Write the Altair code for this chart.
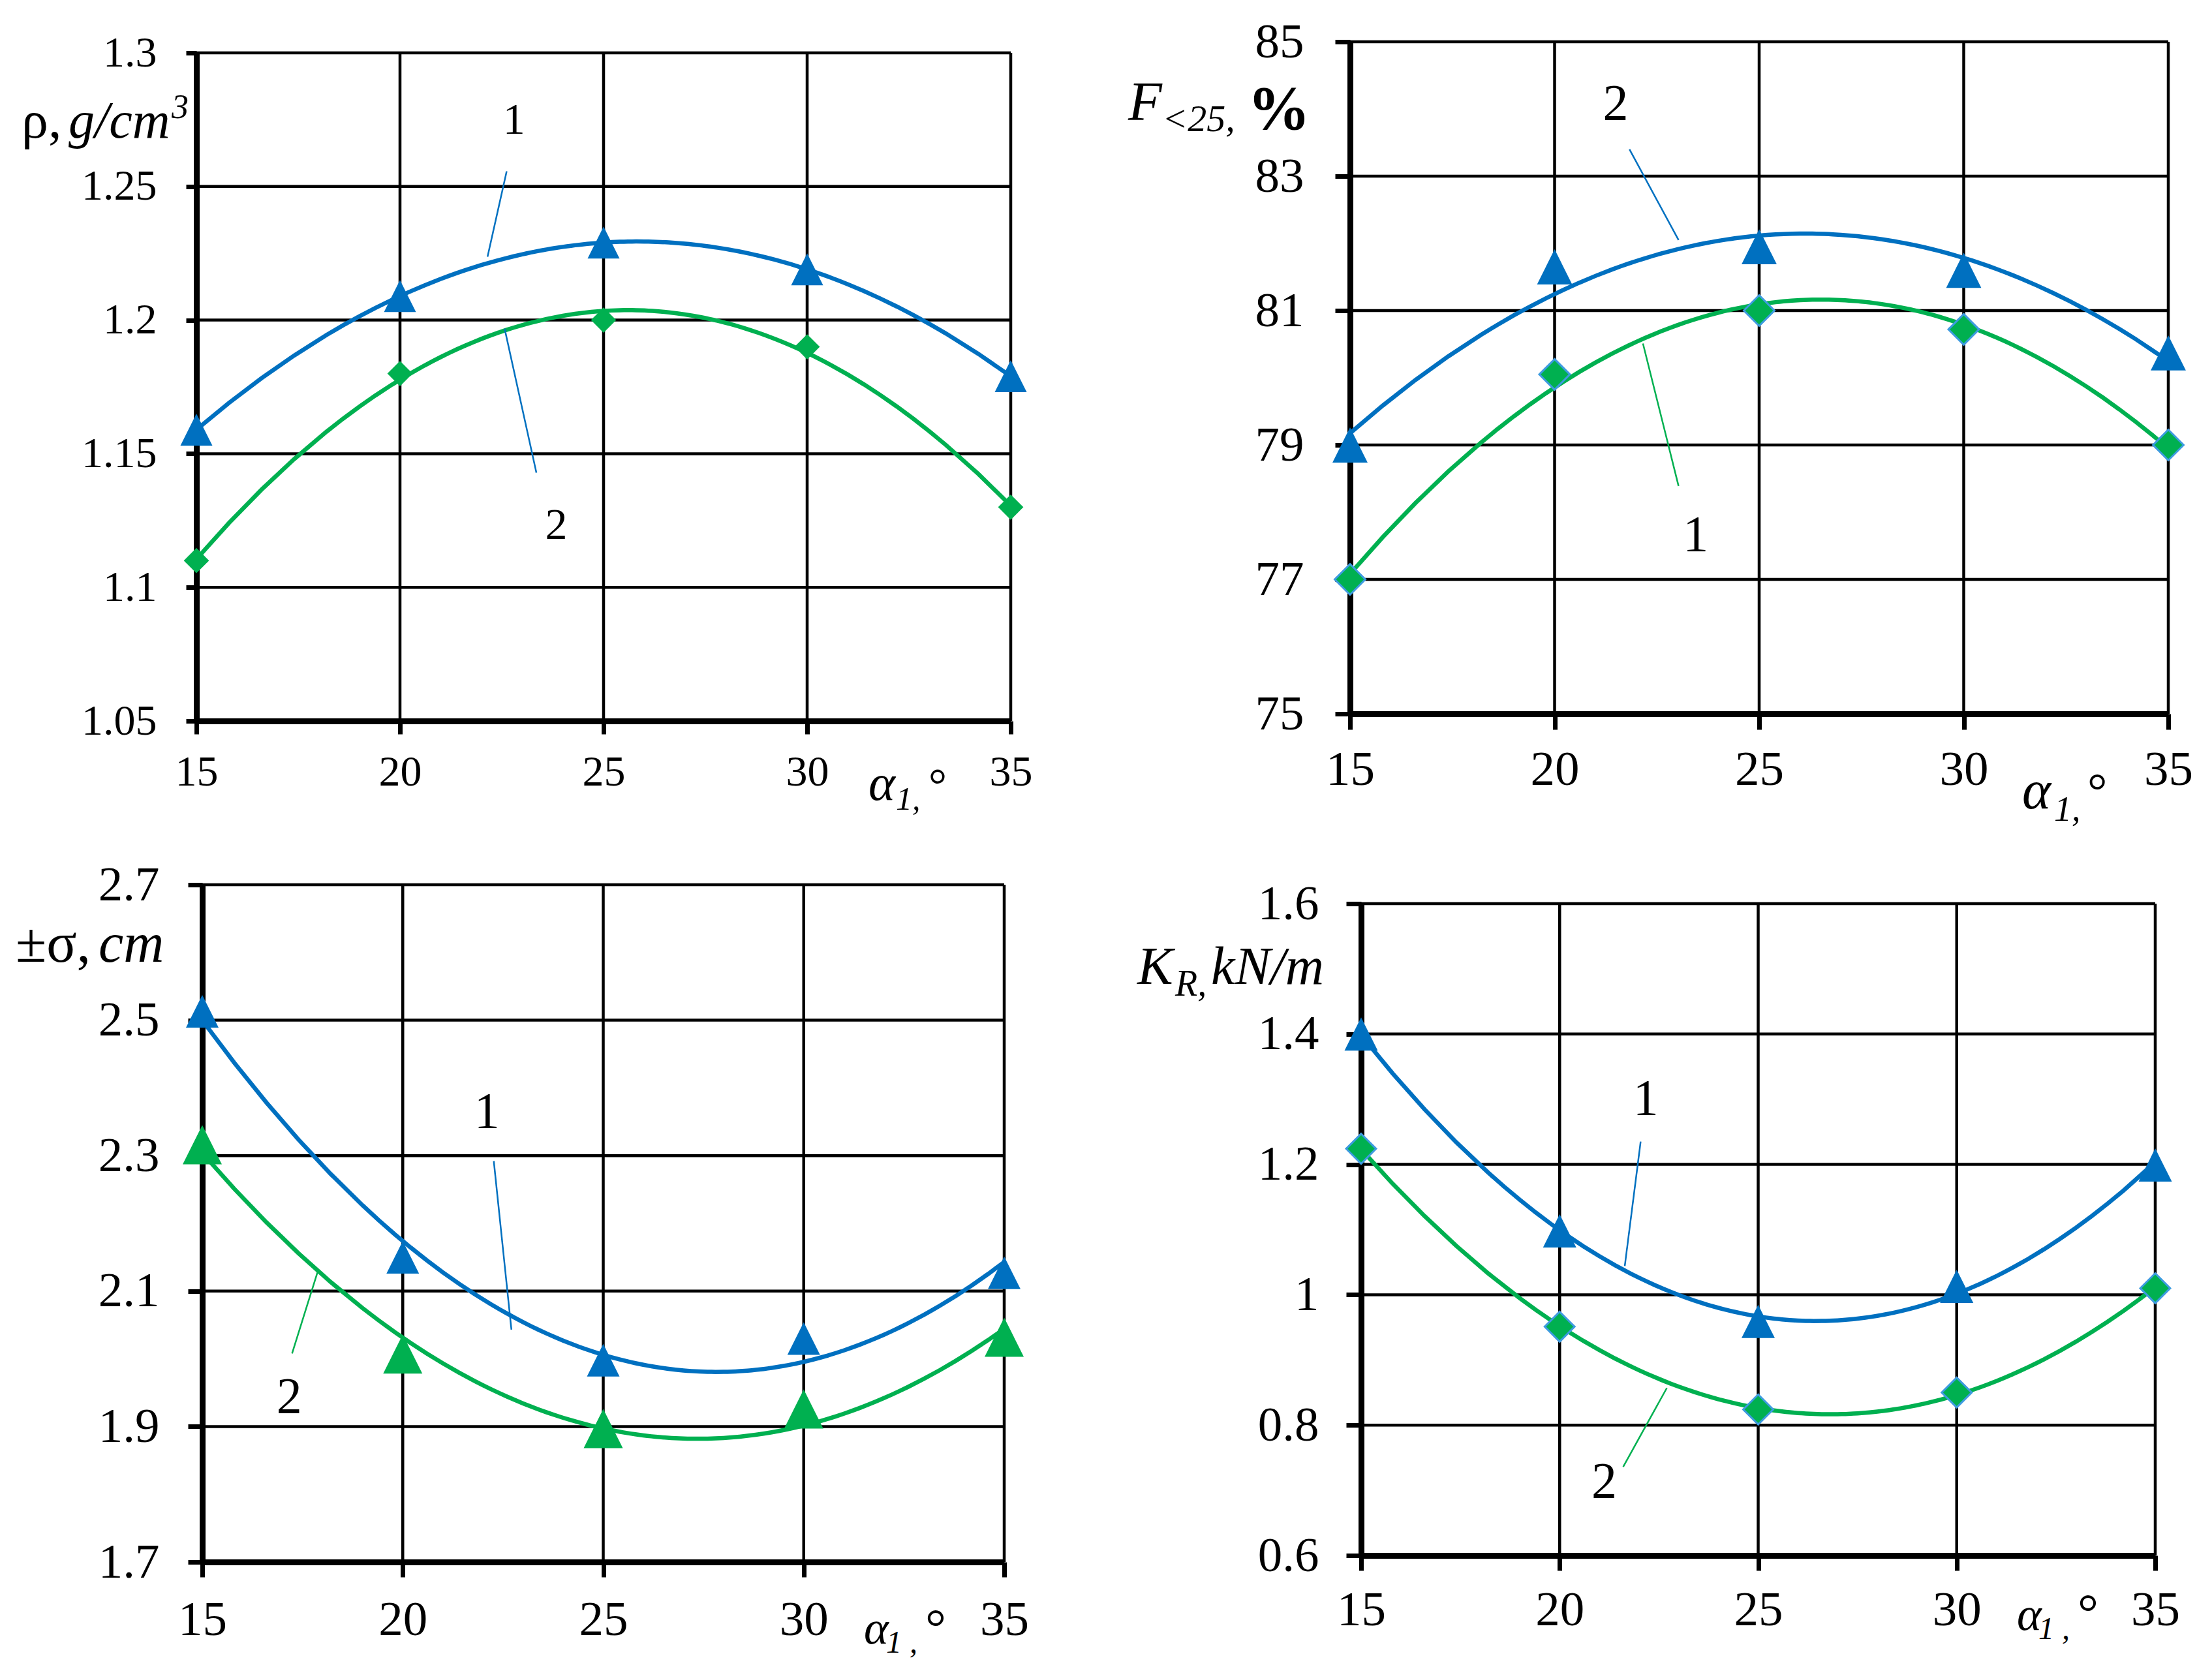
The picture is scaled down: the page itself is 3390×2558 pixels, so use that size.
import altair as alt
import pandas as pd

# ---------------- data ----------------
angles = [15, 20, 25, 30, 35]

# panel (a) density, g/cm3
rho_1 = [1.159, 1.209, 1.229, 1.219, 1.179]   # blue triangles, curve "1"
rho_2 = [1.110, 1.180, 1.200, 1.190, 1.130]   # green diamonds, curve "2"
rho_ticks = [1.05, 1.1, 1.15, 1.2, 1.25, 1.3]

# panel (b) F<25, %
F_1 = [77.0, 80.05, 81.0, 80.72, 79.0]        # green diamonds, curve "1"
F_2 = [79.0, 81.65, 81.95, 81.6, 80.37]       # blue triangles, curve "2"
F_ticks = [75, 77, 79, 81, 83, 85]

# panel (c) +-sigma, cm
sig_1 = [2.513, 2.150, 1.998, 2.030, 2.127]   # blue triangles, curve "1"
sig_2 = [2.316, 2.007, 1.897, 1.926, 2.032]   # green triangles, curve "2"
sig_ticks = [1.7, 1.9, 2.1, 2.3, 2.5, 2.7]

# panel (d) K_R, kN/m
K_1 = [1.400, 1.098, 0.959, 1.013, 1.199]     # blue triangles, curve "1"
K_2 = [1.224, 0.951, 0.824, 0.850, 1.010]     # green diamonds, curve "2"
K_ticks = [0.6, 0.8, 1.0, 1.2, 1.4, 1.6]

# curve labels with leader lines (data units): label, label x, label y, x1, y1, x2, y2, series
rho_notes = [("1", 22.8, 1.2746, 22.62, 1.2557, 22.15, 1.2237, "b"),
             ("2", 23.84, 1.1229, 22.57, 1.1968, 23.35, 1.1429, "b")]
F_notes = [("2", 21.49, 84.07, 21.83, 83.40, 23.03, 82.05, "b"),
           ("1", 23.45, 77.65, 22.16, 80.51, 23.03, 78.39, "g")]
sig_notes = [("1", 22.10, 2.364, 22.27, 2.292, 22.71, 2.043, "b"),
             ("2", 17.17, 1.943, 17.24, 2.008, 17.88, 2.129, "g")]
K_notes = [("1", 22.17, 1.300, 22.04, 1.235, 21.64, 1.044, "b"),
           ("2", 21.12, 0.712, 21.60, 0.736, 22.70, 0.857, "g")]

# ---------------- styling ----------------
BLUE = "#0070C0"
GREEN = "#00B050"
OUTLINE = "#3D9BE0"
SERIF = "Liberation Serif"
TRI = "M0,-1L1,1L-1,1Z"
DIA = "M0,-1L1,0L0,1L-1,0Z"
COL = {"b": BLUE, "g": GREEN}

# axis-title pieces: text, x px, y px (relative to panel group), size, style, weight
rho_title = [("ρ,", -268, 147, 82, "normal", "normal"), ("g/cm", -196, 147, 80, "italic", "normal"),
             ("3", -38, 117, 52, "italic", "normal"),
             ("α", 1030, 1162, 78, "italic", "normal"), ("1,", 1072, 1177, 50, "italic", "normal"),
             ("°", 1122, 1162, 70, "normal", "normal")]
F_title = [("F", -340, 120, 85, "italic", "normal"), ("<25,", -288, 137, 58, "italic", "normal"),
           ("%", -157, 134, 96, "normal", "bold"),
           ("α", 1030, 1175, 84, "italic", "normal"), ("1,", 1079, 1194, 54, "italic", "normal"),
           ("°", 1130, 1174, 76, "normal", "normal")]
sig_title = [("±σ,", -277, 118, 86, "normal", "normal"), ("cm", -150, 118, 86, "italic", "normal"),
             ("α", 1023, 1163, 72, "italic", "normal"), ("1 ,", 1057, 1177, 48, "italic", "normal"),
             ("°", 1117, 1165, 80, "normal", "normal")]
K_title = [("K", -326, 152, 82, "italic", "normal"), ("R,", -268, 170, 56, "italic", "normal"),
           ("kN/m", -213, 152, 82, "italic", "normal"),
           ("α", 1022, 1142, 72, "italic", "normal"), ("1 ,", 1055, 1156, 48, "italic", "normal"),
           ("°", 1115, 1142, 80, "normal", "normal")]


def panel(s1, s2, ticks, colors, markers, notes, title, width, height,
          xrange=None, yrange=None, fs=75, note_fs=78, xtick=23, ytick=23,
          xpad=84, ypad=45, yoffset=0, anchor=False):
    df = pd.DataFrame({"angle": angles * 2, "value": s1 + s2,
                       "series": ["1"] * 5 + ["2"] * 5,
                       "col": [COL[colors[0]]] * 5 + [COL[colors[1]]] * 5})
    xs = alt.Scale(domain=[15, 35], nice=False, zero=False)
    if xrange is not None:
        xs = alt.Scale(domain=[15, 35], nice=False, zero=False, range=xrange)
    ys = alt.Scale(domain=[ticks[0], ticks[-1]], nice=False, zero=False)
    if yrange is not None:
        ys = alt.Scale(domain=[ticks[0], ticks[-1]], nice=False, zero=False, range=yrange)
    common = dict(grid=False, domain=True, domainColor="black", domainWidth=9,
                  ticks=True, tickColor="black", tickWidth=7,
                  labelFont=SERIF, labelFontSize=fs, labelColor="black",
                  labelFlush=False, labelOverlap=False, title=None, format="~g")
    xa = alt.Axis(values=angles, tickSize=xtick, labelPadding=xpad,
                  labelBaseline="alphabetic", **common)
    ya_kw = dict(values=ticks, tickSize=ytick, labelPadding=ypad, labelBaseline="middle", **common)
    if yoffset:
        ya_kw["offset"] = yoffset
    ya = alt.Axis(**ya_kw)

    X = alt.X("angle:Q", scale=xs, axis=xa)
    Y = alt.Y("value:Q", scale=ys, axis=ya)
    base = alt.Chart(df)

    # grid lines at the tick values
    vg = pd.DataFrame({"angle": angles, "lo": ticks[0], "hi": ticks[-1]})
    hg = pd.DataFrame({"value": ticks, "lo": 15, "hi": 35})
    vgrid = alt.Chart(vg).mark_rule(color="black", strokeWidth=4.5).encode(
        x=X, y=alt.Y("lo:Q", scale=ys, axis=ya), y2="hi:Q")
    hgrid = alt.Chart(hg).mark_rule(color="black", strokeWidth=4.5).encode(
        y=Y, x=alt.X("lo:Q", scale=xs, axis=xa), x2="hi:Q")

    curves = base.transform_regression(
        "angle", "value", method="poly", order=2, extent=[15, 35], groupby=["series", "col"]
    ).mark_line(strokeWidth=6.5, clip=False).encode(
        x=X, y=Y, detail="series:N", color=alt.Color("col:N", scale=None))

    layers = [vgrid, hgrid, curves]

    ndf = pd.DataFrame(notes, columns=["label", "lx", "ly", "x1", "y1", "x2", "y2", "c"])
    ndf["col"] = ndf["c"].map(COL)
    leaders = alt.Chart(ndf).mark_rule(strokeWidth=2.5).encode(
        x=alt.X("x1:Q", scale=xs, axis=xa), y=alt.Y("y1:Q", scale=ys, axis=ya),
        x2="x2:Q", y2="y2:Q", color=alt.Color("col:N", scale=None))
    layers.append(leaders)

    for s, (shape, size, fill, stroke, sw) in zip(["1", "2"], markers):
        layers.append(
            base.transform_filter(alt.datum.series == s).mark_point(
                shape=shape, size=size, filled=True, color=fill, fill=fill,
                stroke=stroke, strokeWidth=sw, opacity=1).encode(x=X, y=Y))

    labels = alt.Chart(ndf).mark_text(font=SERIF, fontSize=note_fs, color="black",
                                      align="center", baseline="middle").encode(
        x=alt.X("lx:Q", scale=xs, axis=xa), y=alt.Y("ly:Q", scale=ys, axis=ya), text="label:N")
    layers.append(labels)

    one = pd.DataFrame({"k": [0]})
    for txt, px, py, size, style, weight in title:
        layers.append(alt.Chart(one).mark_text(
            text=txt, font=SERIF, fontSize=size, fontStyle=style, fontWeight=weight,
            color="black", align="left", baseline="alphabetic").encode(
            x=alt.value(px), y=alt.value(py)))

    if anchor:
        layers.append(alt.Chart(one).mark_point(
            shape="square", size=1, filled=True, color="white", opacity=1).encode(
            x=alt.value(-292), y=alt.value(-55)))

    return alt.layer(*layers).properties(width=width, height=height)


tl = panel(rho_1, rho_2, rho_ticks, ["b", "g"],
           [(TRI, 2400, BLUE, BLUE, 0), (DIA, 1500, GREEN, GREEN, 0)],
           rho_notes, rho_title, 1248, 1041, yrange=[1041, 17],
           fs=66, note_fs=68, xtick=20, ytick=16, xpad=78, ypad=45, anchor=True)
tr = panel(F_1, F_2, F_ticks, ["g", "b"],
           [(DIA, 2200, GREEN, OUTLINE, 3), (TRI, 2900, BLUE, BLUE, 0)],
           F_notes, F_title, 1254, 1030,
           fs=75, note_fs=78, xtick=24, ytick=23, xpad=84, ypad=48)
bl = panel(sig_1, sig_2, sig_ticks, ["b", "g"],
           [(TRI, 2500, BLUE, BLUE, 0), (TRI, 3600, GREEN, GREEN, 0)],
           sig_notes, sig_title, 1238, 1038, xrange=[9, 1238],
           fs=75, note_fs=78, xtick=23, ytick=22, xpad=88, ypad=44, yoffset=-9)
br = panel(K_1, K_2, K_ticks, ["b", "g"],
           [(TRI, 2600, BLUE, BLUE, 0), (DIA, 2100, GREEN, OUTLINE, 3)],
           K_notes, K_title, 1234, 1028, xrange=[17, 1234], yrange=[1028, 29],
           fs=75, note_fs=78, xtick=23, ytick=23, xpad=83, ypad=42, yoffset=-17)

chart = alt.concat(tl, tr, bl, br, columns=2, spacing={"row": 251, "column": 520},
                   bounds="flush").properties(
    padding=0, background="white"
).configure_view(stroke=None)

chart.save("out.html", embed_options={"renderer": "svg", "actions": False})
